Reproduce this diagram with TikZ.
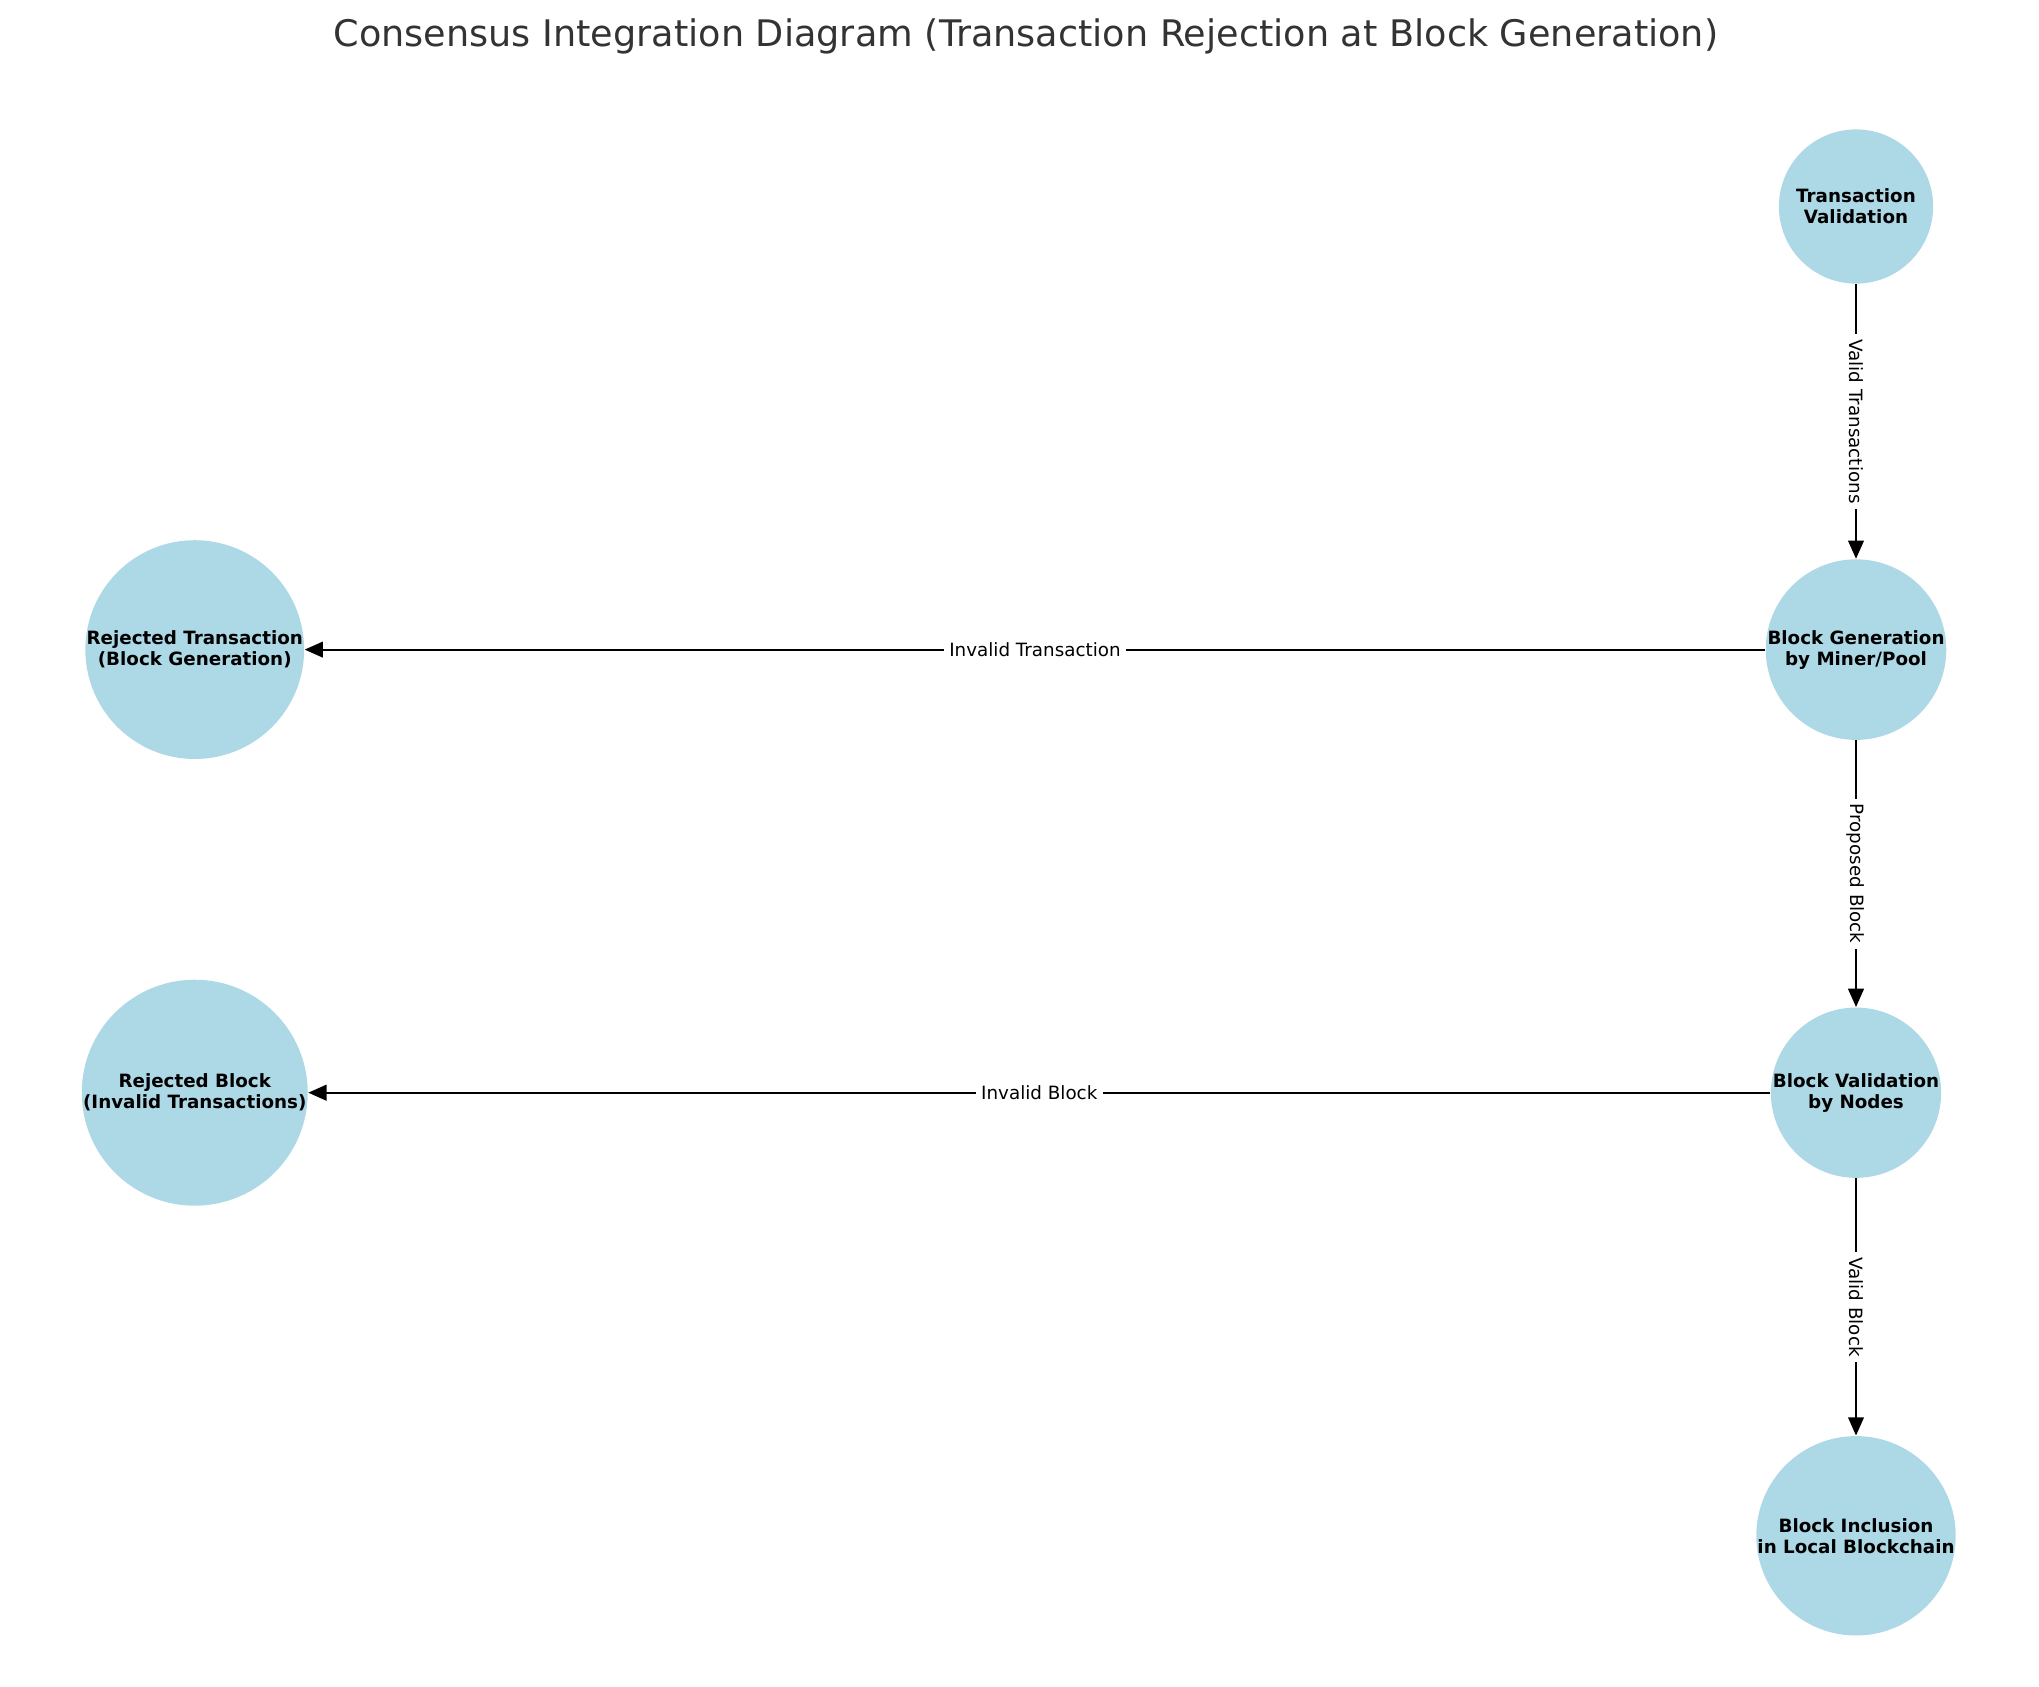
\documentclass[tikz,border=0pt]{standalone}
\usepackage{fontspec}
\setmainfont{DejaVu Sans}
\usetikzlibrary{arrows.meta}
\begin{document}
\begin{tikzpicture}[x=0.5pt,y=-0.5pt,
  nd/.style={circle,fill=cyan!15!blue!10!white,fill={rgb,255:red,173;green,216;blue,230},minimum size=118*0.5pt,inner sep=0pt,align=center,font=\fontsize{7}{8}\selectfont\bfseries},
  ed/.style={-{Triangle[length=7pt,width=6pt]},line width=0.8pt},
  lb/.style={fill=white,inner sep=2pt,font=\fontsize{7}{8}\selectfont}]
\useasboundingbox (0,0) rectangle (1560,1290);
\node[font=\fontsize{14}{16}\selectfont,text={rgb,255:red,51;green,51;blue,51}] (title) at (785,28) {Consensus Integration Diagram (Transaction Rejection at Block Generation)};
\node[nd] (tv) at (1420,158) {Transaction\\Validation};
\node[nd] (bg) at (1420,497) {Block Generation\\by Miner/Pool};
\node[nd] (bv) at (1420,836) {Block Validation\\by Nodes};
\node[nd] (bi) at (1420,1175) {Block Inclusion\\in Local Blockchain};
\node[nd] (rt) at (149,497) {Rejected Transaction\\(Block Generation)};
\node[nd] (rb) at (149,836) {Rejected Block\\(Invalid Transactions)};
\draw[ed] (tv) -- node[lb,rotate=-90] {Valid Transactions} (bg);
\draw[ed] (bg) -- node[lb,rotate=-90] {Proposed Block} (bv);
\draw[ed] (bv) -- node[lb,rotate=-90] {Valid Block} (bi);
\draw[ed] (bg) -- node[lb] {Invalid Transaction} (rt);
\draw[ed] (bv) -- node[lb] {Invalid Block} (rb);
\end{tikzpicture}
\end{document}
